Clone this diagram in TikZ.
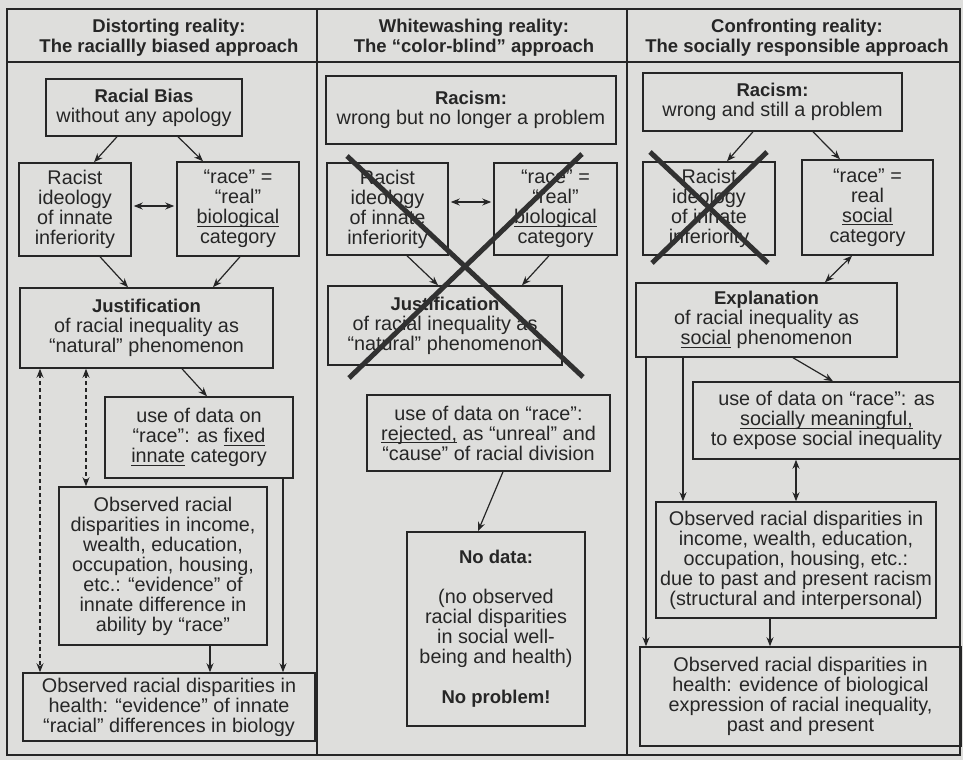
\documentclass[tikz,border=0pt]{standalone}
\usepackage{fontspec}
\setmainfont{Liberation Sans}
\usetikzlibrary{arrows.meta}
\definecolor{paper}{RGB}{222,222,220}
\definecolor{ink}{RGB}{38,38,38}
\newcommand\rgfont{\fontsize{19.8}{20}\selectfont}
\newcommand\bdtxt[1]{{\bfseries\fontsize{18.5}{20}\selectfont #1}}
\newcommand\ulin[1]{\setbox0\hbox{#1}\rlap{\rule[-3pt]{\wd0}{1.1pt}}\box0\relax}
\begin{document}
\begin{tikzpicture}[x=1pt,y=-1pt,
  box/.style={draw=ink, line width=1.5pt, inner sep=0pt, align=center, text=ink, font=\rgfont},
  hdr/.style={align=center, text=ink, inner sep=0pt, font=\bfseries\fontsize{18.5}{20}\selectfont},
  arr/.style={draw=ink, line width=1.2pt, -{Stealth[length=9pt,width=7pt]}},
  darr/.style={draw=ink, line width=1.2pt, {Stealth[length=9pt,width=7pt]}-{Stealth[length=9pt,width=7pt]}},
  dasharr/.style={darr, dash pattern=on 4pt off 3pt},
  cross/.style={draw=ink!95, line width=5pt},
  frame/.style={draw=ink, line width=1.5pt}]
\useasboundingbox (0,0) rectangle (963,760);
\fill[paper] (0,0) rectangle (963,760);

% frame
\draw[frame] (7,9) rectangle (960,755);
\draw[frame] (7,62) -- (960,62);
\draw[frame] (317,9) -- (317,755);
\draw[frame] (627,9) -- (627,755);

% headers
\node[hdr] (h1) at (169,38) {Distorting reality:\\The raciallly biased approach};
\node[hdr] (h2) at (474,38) {Whitewashing reality:\\The “color-blind” approach};
\node[hdr] (h3) at (797,38) {Confronting reality:\\The socially responsible approach};

% left column
\node[box, minimum width=196pt, minimum height=57pt] (rb) at (144,107.5) {\bdtxt{Racial Bias}\\without any apology};
\node[box, minimum width=112pt, minimum height=93pt] (ri1) at (75,209.5) {Racist\\ideology\\of innate\\inferiority};
\node[box, minimum width=122pt, minimum height=94pt] (rc1) at (238,209) {“race” =\\“real”\\\ulin{biological}\\category};
\node[box, minimum width=253pt, minimum height=80pt] (j1) at (146.5,328) {\bdtxt{Justification}\\of racial inequality as\\“natural” phenomenon};
\node[box, minimum width=188pt, minimum height=81pt] (u1) at (199,437.5) {use of data on\\“race”: as \ulin{fixed}\\\ulin{innate} category};
\node[box, minimum width=208pt, minimum height=158pt] (o1) at (163,566) {Observed racial\\disparities in income,\\wealth, education,\\occupation, housing,\\etc.: “evidence” of\\innate difference in\\ability by “race”};
\node[box, minimum width=292pt, minimum height=68pt] (b1) at (169,707) {Observed racial disparities in\\health: “evidence” of innate\\“racial” differences in biology};

\draw[arr] (117,0 |- rb.south) -- (94,0 |- ri1.north);
\draw[arr] (178,0 |- rb.south) -- (203,0 |- rc1.north);
\draw[darr, shorten <=2pt, shorten >=2pt] (ri1.east |- 0,206) -- (rc1.west |- 0,206);
\draw[arr] (100,0 |- ri1.south) -- (128,0 |- j1.north);
\draw[arr] (240,0 |- rc1.south) -- (213,0 |- j1.north);
\draw[arr] (182,0 |- j1.south) -- (207,0 |- u1.north);
\draw[dasharr] (40,0 |- j1.south) -- (40,0 |- b1.north);
\draw[dasharr] (86,0 |- j1.south) -- (86,0 |- o1.north);
\draw[arr] (283,0 |- u1.south) -- (283,0 |- b1.north);
\draw[arr] (210,0 |- o1.south) -- (210,0 |- b1.north);

% middle column
\node[box, minimum width=290pt, minimum height=68pt] (rm) at (471,110) {\bdtxt{Racism:}\\wrong but no longer a problem};
\node[box, minimum width=121pt, minimum height=92pt] (ri2) at (387.5,209) {Racist\\ideology\\of innate\\inferiority};
\node[box, minimum width=123pt, minimum height=92pt] (rc2) at (555.5,209) {“race” =\\“real”\\\ulin{biological}\\category};
\node[box, minimum width=234pt, minimum height=79pt] (j2) at (445,325.5) {\bdtxt{Justification}\\of racial inequality as\\“natural” phenomenon};
\node[box, minimum width=243pt, minimum height=76pt] (u2) at (488.5,433) {use of data on “race”:\\\ulin{rejected,} as “unreal” and\\“cause” of racial division};
\node[box, minimum width=178pt, minimum height=194pt] (nd) at (496,629) {\bdtxt{No data:}\\[20pt](no observed\\racial disparities\\in social well-\\being and health)\\[20pt]\bdtxt{No problem!}};

\draw[darr, shorten <=2pt, shorten >=2pt] (ri2.east |- 0,202) -- (rc2.west |- 0,202);
\draw[arr] (407,0 |- ri2.south) -- (438,0 |- j2.north);
\draw[arr] (549,0 |- rc2.south) -- (522,0 |- j2.north);
\draw[arr] (503,0 |- u2.south) -- (478,0 |- nd.north);
\draw[cross] (347,156) -- (583,377);
\draw[cross] (582,154) -- (349,378);

% right column
\node[box, minimum width=259pt, minimum height=58pt] (rr) at (772.5,102) {\bdtxt{Racism:}\\wrong and still a problem};
\node[box, minimum width=132pt, minimum height=93pt] (ri3) at (709,208.5) {Racist\\ideology\\of innate\\inferiority};
\node[box, minimum width=131pt, minimum height=95pt] (rc3) at (867.5,207.5) {“race” =\\real\\\ulin{social}\\category};
\node[box, minimum width=261pt, minimum height=74pt] (e3) at (766.5,320) {\bdtxt{Explanation}\\of racial inequality as\\\ulin{social} phenomenon};
\node[box, minimum width=267pt, minimum height=77pt] (u3) at (826.5,420.5) {use of data on “race”: as\\\ulin{socially meaningful,}\\to expose social inequality};
\node[box, minimum width=280pt, minimum height=116pt] (o3) at (796,560) {Observed racial disparities in\\income, wealth, education,\\occupation, housing, etc.:\\due to past and present racism\\(structural and interpersonal)};
\node[box, minimum width=321pt, minimum height=99pt] (b3) at (800.5,696.5) {Observed racial disparities in\\health: evidence of biological\\expression of racial inequality,\\past and present};

\draw[arr] (753,0 |- rr.south) -- (727,0 |- ri3.north);
\draw[arr] (813,0 |- rr.south) -- (840,0 |- rc3.north);
\draw[darr] (852,0 |- rc3.south) -- (825,0 |- e3.north);
\draw[arr] (793,0 |- e3.south) -- (833,0 |- u3.north);
\draw[darr] (796,0 |- u3.south) -- (796,0 |- o3.north);
\draw[arr] (683,0 |- e3.south) -- (683,0 |- o3.north);
\draw[arr] (646,0 |- e3.south) -- (646,0 |- b3.north);
\draw[arr] (770,0 |- o3.south) -- (770,0 |- b3.north);
\draw[cross] (650,152) -- (768,263);
\draw[cross] (767,152) -- (652,263);
\end{tikzpicture}
\end{document}
